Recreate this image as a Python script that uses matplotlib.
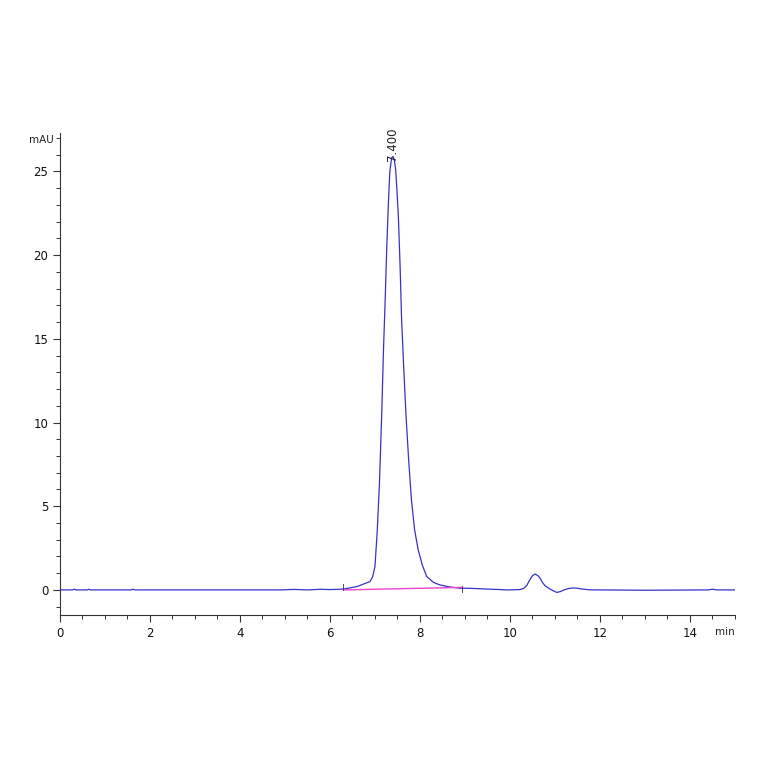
import matplotlib
matplotlib.use('Agg')
import matplotlib.pyplot as plt

# chromatogram trace (min, mAU)
time_min = [0.0, 0.28, 0.32, 0.36, 0.6, 0.64, 0.68, 1.58, 1.62, 1.66, 4.9, 5.2, 5.5, 5.8,
            6.0, 6.3, 6.6, 6.89, 6.95, 7.0, 7.05, 7.10, 7.15, 7.19, 7.23, 7.26, 7.30,
            7.33, 7.37, 7.40, 7.43, 7.46, 7.49, 7.52, 7.56, 7.59, 7.64, 7.69, 7.75,
            7.81, 7.88, 7.96, 8.05, 8.15, 8.30, 8.44, 8.65, 8.89, 9.07, 9.5, 9.96,
            10.22, 10.30, 10.37, 10.44, 10.50, 10.56, 10.62, 10.67, 10.72, 10.78,
            10.89, 10.96, 11.04, 11.12, 11.2, 11.3, 11.41, 11.5, 11.6, 11.8, 12.0,
            13.0, 14.4, 14.5, 14.6, 15.0]
signal = [0.0, 0.0, 0.04, 0.0, 0.0, 0.04, 0.0, 0.0, 0.04, 0.0, 0.0, 0.03, 0.0, 0.04,
          0.02, 0.05, 0.2, 0.5, 0.8, 1.4, 3.5, 6.4, 10.5, 14.4, 17.6, 20.3, 23.2,
          25.0, 25.8, 25.9, 25.7, 25.1, 23.8, 22.3, 19.2, 16.3, 13.2, 10.4, 7.7,
          5.4, 3.6, 2.4, 1.5, 0.8, 0.45, 0.3, 0.18, 0.1, 0.1, 0.05, 0.0,
          0.02, 0.08, 0.25, 0.6, 0.85, 0.95, 0.85, 0.7, 0.45, 0.25,
          0.05, -0.05, -0.15, -0.1, 0.0, 0.08, 0.12, 0.1, 0.05, 0.0, 0.0,
          -0.02, 0.0, 0.04, 0.0, 0.0]

# integration baseline of the main peak
base_t = [6.30, 8.93]
base_y = [0.0, 0.15]

peak_rt = 7.400
peak_height = 25.9

fig = plt.figure(figsize=(7.64, 7.64), dpi=100)
ax = fig.add_axes([0.0785, 0.195, 0.8835, 0.631])

ax.plot(time_min, signal, color='#3333cc', linewidth=0.9)
ax.plot(base_t, base_y, color='#ee44cc', linewidth=1.0)
# start / end markers of integration
ax.plot([base_t[0], base_t[0]], [base_y[0], base_y[0] + 0.35], color='#333333', linewidth=0.6)
ax.plot([base_t[1], base_t[1]], [base_y[1] - 0.3, base_y[1] + 0.1], color='#333333', linewidth=0.6)

ax.text(peak_rt, peak_height - 0.3, f'{peak_rt:.3f}', rotation=90, ha='center', va='bottom',
        fontsize=8.5, color='#222222')

ax.set_xlim(0, 15)
ax.set_ylim(-1.5, 27.3)
ax.set_xticks([0, 2, 4, 6, 8, 10, 12, 14])
ax.set_xticks([i * 0.5 for i in range(31)], minor=True)
ax.set_yticks([0, 5, 10, 15, 20, 25])
ax.set_yticks(list(range(-1, 28)), minor=True)

for side in ['top', 'right']:
    ax.spines[side].set_visible(False)
for side in ['left', 'bottom']:
    ax.spines[side].set_color('#333333')
    ax.spines[side].set_linewidth(0.8)

ax.tick_params(axis='both', which='major', direction='out', length=5, width=0.8,
               labelsize=8.5, colors='#333333', labelcolor='#111111')
ax.tick_params(axis='both', which='minor', direction='out', length=3, width=0.7, colors='#333333')

ax.text(-0.027, 0.985, 'mAU', transform=ax.transAxes, ha='center', va='center', fontsize=7.5,
        color='#222222')
ax.text(0.985, -0.036, 'min', transform=ax.transAxes, ha='center', va='center', fontsize=7.5,
        color='#222222')

fig.savefig('out.png', dpi=100)
